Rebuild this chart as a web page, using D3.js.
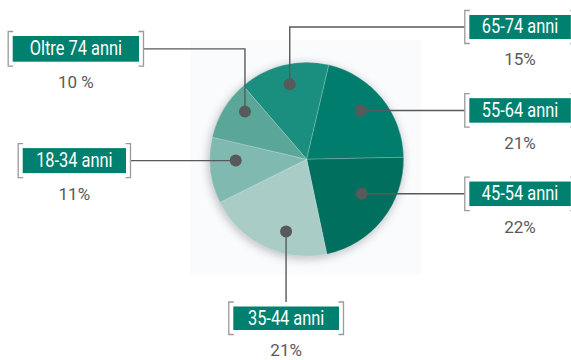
<!DOCTYPE html>
<html><head><meta charset="utf-8">
<script src="https://cdn.jsdelivr.net/npm/d3@7"></script>
<style>body{margin:0;background:#fff}svg{display:block}</style>
</head><body><svg id="c" width="571" height="360"></svg>
<script>
// ---- data ----
const categories = ["65-74 anni", "55-64 anni", "45-54 anni", "35-44 anni", "18-34 anni", "Oltre 74 anni"];
const values = [15, 21, 22, 21, 11, 10];
const valueLabels = ["15%", "21%", "22%", "21%", "11%", "10 %"];

// ---- style / layout ----
const colors = ["#1b8f7f", "#007d6c", "#006f5d", "#a9ccc7", "#80b9b0", "#5aa699"];
const cx = 306.7, cy = 159.3, R = 97;
const startAngle = -40.8 * Math.PI / 180;
// dot placement inside slice (fraction of slice angle, radius) and label routing
const layout = [
  {t: 0.52, r: 77, route: "up-right", bx: 469.3, bw: 101.5, by: 15, bh: 24},
  {t: 0.46, r: 73, route: "right", bx: 469.3, bw: 101.5, bh: 24.5},
  {t: 0.42, r: 65, route: "right", bx: 469.3, bw: 101.5, bh: 24.5},
  {t: 0.37, r: 75, route: "down", bx: 233.3, bw: 105.7, by: 306.5, bh: 23.5},
  {t: 0.64, r: 71, route: "left", bx: 22.7, bw: 103.3, bh: 25},
  {t: 0.68, r: 78, route: "up-left", bx: 12.7, bw: 126.3, by: 36, bh: 25.7}
];
const padX = 4.5, padY = 4.5, arm = 5;
const font = "Roboto,'Liberation Sans',Arial,sans-serif";

const svg = d3.select("#c");
const defs = svg.append("defs");
const f = defs.append("filter").attr("id", "sh").attr("x", "-30%").attr("y", "-30%").attr("width", "160%").attr("height", "160%");
f.append("feGaussianBlur").attr("stdDeviation", 4.5);

// light panel behind pie
svg.append("rect").attr("x", 190).attr("y", 40).attr("width", 231).attr("height", 235).attr("fill", "#fafbfd");

// shadow
svg.append("circle").attr("cx", cx - 1).attr("cy", cy + 2).attr("r", R + 1)
  .attr("fill", "#8a8a90").attr("opacity", 0.5).attr("filter", "url(#sh)");

const pie = d3.pie().sort(null).value(d => d).startAngle(startAngle).endAngle(startAngle + 2 * Math.PI);
const arcs = pie(values);
const arc = d3.arc().innerRadius(0).outerRadius(R);
const color = d3.scaleOrdinal().domain(categories).range(colors);

const g = svg.append("g").attr("transform", `translate(${cx},${cy})`);
g.selectAll("path").data(arcs).join("path")
  .attr("d", arc)
  .attr("fill", (d, i) => color(categories[i]))
  .attr("stroke", "rgba(255,255,255,0.35)").attr("stroke-width", 0.6);

// dots + leaders + labels
const lineColor = "#58595b";
arcs.forEach((a, i) => {
  const L = layout[i];
  const ang = a.startAngle + (a.endAngle - a.startAngle) * L.t;
  const dx = cx + L.r * Math.sin(ang), dy = cy - L.r * Math.cos(ang);
  let by = L.by;
  if (L.route === "right" || L.route === "left") by = dy - L.bh / 2;
  const bx = L.bx, bw = L.bw, bh = L.bh;
  const x0 = bx - padX, x1 = bx + bw + padX, y0 = by - padY, y1 = by + bh + padY;
  const my = by + bh / 2, mx = bx + bw / 2;
  let p = d3.path();
  p.moveTo(dx, dy);
  if (L.route === "up-right") { p.lineTo(dx, my); p.lineTo(x0, my); }
  else if (L.route === "up-left") { p.lineTo(dx, my); p.lineTo(x1, my); }
  else if (L.route === "right") { p.lineTo(x0, dy); }
  else if (L.route === "left") { p.lineTo(x1, dy); }
  else if (L.route === "down") { p.lineTo(dx, y0); }
  svg.append("path").attr("d", p.toString()).attr("fill", "none")
    .attr("stroke", lineColor).attr("stroke-width", 1.4);
  svg.append("circle").attr("cx", dx).attr("cy", dy).attr("r", 6).attr("fill", lineColor);

  // brackets
  svg.append("path")
    .attr("d", `M${x0 + arm},${y0}H${x0}V${y1}H${x0 + arm}M${x1 - arm},${y0}H${x1}V${y1}H${x1 - arm}`)
    .attr("fill", "none").attr("stroke", "#9a9a9a").attr("stroke-width", 1.3);
  svg.append("rect").attr("x", bx).attr("y", by).attr("width", bw).attr("height", bh).attr("fill", "#00806e");
  svg.append("g").attr("transform", `translate(${mx},${my + 1}) scale(0.82,1)`)
    .append("text").attr("text-anchor", "middle")
    .attr("dominant-baseline", "middle")
    .style("font-family", font)
    .style("font-size", "20px").attr("fill", "#fff").text(categories[i]);
  svg.append("text").attr("x", mx).attr("y", by + bh + 22).attr("text-anchor", "middle")
    .attr("dominant-baseline", "middle")
    .style("font-family", font)
    .style("font-size", "17px").attr("fill", "#5a5a5a").text(valueLabels[i]);
});
</script></body></html>
